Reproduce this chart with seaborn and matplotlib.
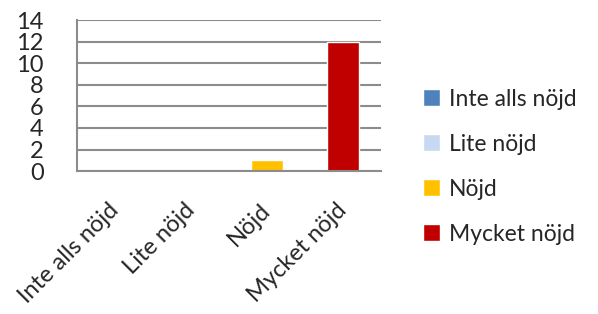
import matplotlib
matplotlib.use('Agg')
import matplotlib.pyplot as plt
import pandas as pd
import seaborn as sns

CATEGORIES = ['Inte alls nöjd', 'Lite nöjd', 'Nöjd', 'Mycket nöjd']
COUNTS = [0, 0, 1, 12]
COLORS = ['#4f81bd', '#c6d9f1', '#ffc000', '#c00000']
Y_TICKS = [0, 2, 4, 6, 8, 10, 12, 14]

data = pd.DataFrame({'svar': CATEGORIES, 'antal': COUNTS})

sns.set_style('white')
plt.rcParams['font.family'] = ['Lato', 'DejaVu Sans']

fig = plt.figure(figsize=(5.98, 3.14), dpi=100)
ax = fig.add_axes([0.129, 0.455, 0.508, 0.481])

sns.barplot(data=data, x='svar', y='antal', hue='svar', palette=COLORS,
            width=0.41, saturation=1, ax=ax, legend=True)

ax.set_ylim(0, 14)
ax.set_yticks(Y_TICKS)
ax.set_xlim(-0.5, 3.5)
ax.yaxis.grid(True, color='#8c8c8c', linewidth=1.5)
ax.set_axisbelow(True)
for side in ['top', 'right']:
    ax.spines[side].set_visible(False)
for side in ['left', 'bottom']:
    ax.spines[side].set_color('#8c8c8c')
    ax.spines[side].set_linewidth(1.5)
ax.tick_params(axis='both', length=0, labelsize=17)
ax.tick_params(axis='y', pad=24)
ax.tick_params(axis='x', pad=26)
ax.set_xlabel('')
ax.set_ylabel('')
plt.setp(ax.get_xticklabels(), rotation=45, ha='right', va='center',
         rotation_mode='anchor')

handles, labels = ax.get_legend_handles_labels()
ax.legend(handles, labels, loc='center left', bbox_to_anchor=(1.07, 0.03),
          frameon=False, fontsize=16.5, handlelength=0.75, handleheight=0.75,
          handletextpad=0.4, labelspacing=1.05)

fig.savefig('out.png', dpi=100)
